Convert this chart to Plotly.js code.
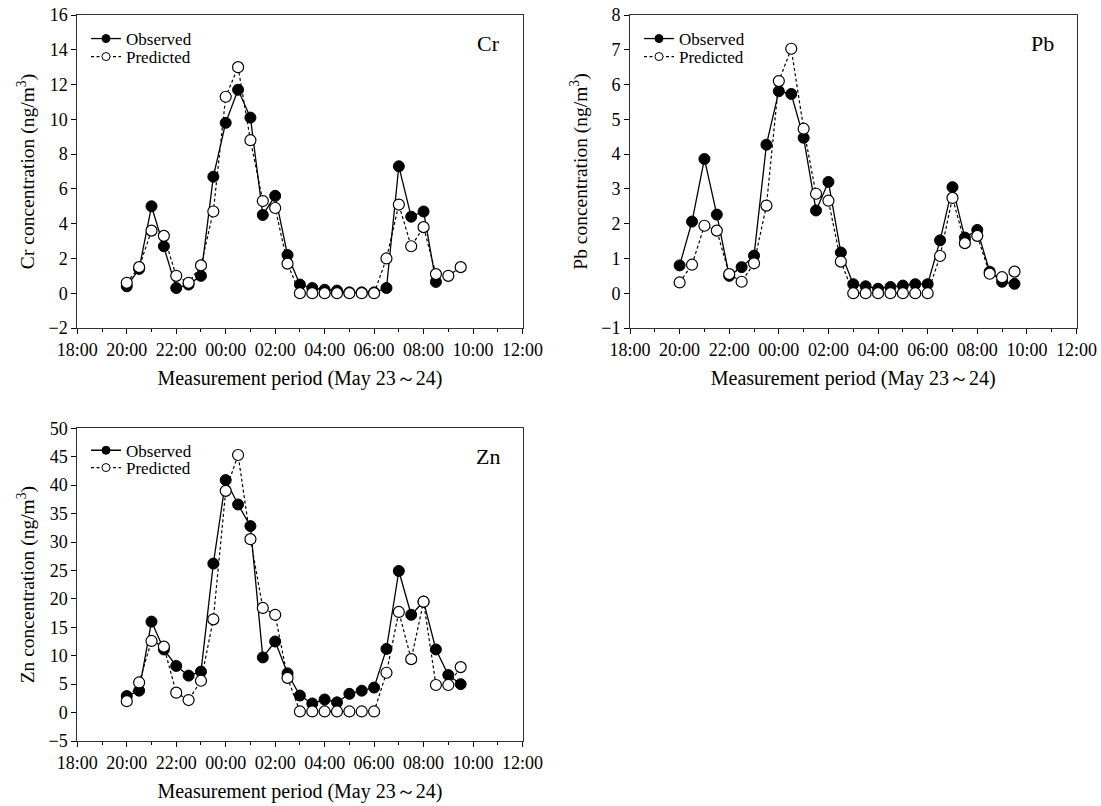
<!DOCTYPE html>
<html>
<head>
<meta charset="utf-8">
<script src="https://cdn.plot.ly/plotly-3.0.1.min.js"></script>
<style>html,body{margin:0;padding:0;background:#fff;}#chart{width:1101px;height:806px;}</style>
</head>
<body>
<div id="chart"></div>
<script>
// Measurement times (May 23 20:00 -> May 24 09:30), 30-min intervals
const times = ["20:00","20:30","21:00","21:30","22:00","22:30","23:00","23:30",
  "00:00","00:30","01:00","01:30","02:00","02:30","03:00","03:30","04:00","04:30",
  "05:00","05:30","06:00","06:30","07:00","07:30","08:00","08:30","09:00","09:30"];

const tickLabels = ["18:00","20:00","22:00","00:00","02:00","04:00","06:00","08:00","10:00","12:00"];

const crObserved = [0.4,1.4,5.0,2.7,0.3,0.5,1.0,6.7,9.8,11.7,10.1,4.5,5.6,2.2,0.5,0.3,0.2,0.15,0.05,0.05,0.05,0.3,7.3,4.4,4.7,0.65,null,null];
const crPredicted = [0.6,1.5,3.6,3.3,1.0,0.6,1.6,4.7,11.3,13.0,8.8,5.3,4.9,1.7,0,0,0,0,0,0,0,2.0,5.1,2.7,3.8,1.1,1.0,1.5];

const pbObserved = [0.80,2.06,3.86,2.26,0.50,0.75,1.08,4.27,5.81,5.73,4.47,2.38,3.2,1.17,0.26,0.2,0.13,0.18,0.22,0.26,0.26,1.52,3.05,1.6,1.82,0.62,0.33,0.27];
const pbPredicted = [0.31,0.82,1.94,1.8,0.55,0.33,0.86,2.52,6.1,7.03,4.73,2.86,2.66,0.91,0,0,0,0,0,0,0,1.07,2.74,1.44,1.65,0.56,0.46,0.62];

const znObserved = [2.9,3.85,16.0,11.1,8.2,6.5,7.2,26.2,40.9,36.6,32.8,9.7,12.5,6.9,3.0,1.6,2.3,1.8,3.3,3.85,4.4,11.2,24.9,17.2,19.5,11.1,6.6,5.0];
const znPredicted = [2.0,5.3,12.6,11.6,3.5,2.2,5.6,16.4,39.0,45.3,30.5,18.4,17.2,6.1,0.2,0.2,0.2,0.2,0.2,0.2,0.2,7.0,17.7,9.4,19.5,4.85,4.85,8.0];

// convert clock time to hours elapsed since 18:00 on May 23
function toHours(t){
  const p = t.split(":");
  let h = parseInt(p[0],10);
  const m = parseInt(p[1],10);
  if (h < 18) h += 24;
  return h + m/60 - 18;
}
const xs = times.map(toHours);
const tickVals = tickLabels.map((_,i)=>i*2);
const minorVals = tickLabels.slice(0,-1).map((_,i)=>i*2+1);

const FONT = "Liberation Serif, Times New Roman, serif";

const OBS_LINE = {color: '#000', width: 1.3};
const PRED_LINE = {color: '#000', width: 1.2, dash: '3px,2.5px'};

function obsTrace(y, xa, ya){
  return {x: xs, y: y, xaxis: xa, yaxis: ya, type: 'scatter', mode: 'lines+markers',
    name: 'Observed', showlegend: false, connectgaps: false, line: OBS_LINE,
    marker: {symbol: 'circle', size: 11, color: '#000', line: {color: '#000', width: 1}}};
}
function predTrace(y, xa, ya){
  return {x: xs, y: y, xaxis: xa, yaxis: ya, type: 'scatter', mode: 'lines+markers',
    name: 'Predicted', showlegend: false, line: PRED_LINE,
    marker: {symbol: 'circle', size: 11, color: '#fff', line: {color: '#000', width: 1.2}}};
}
// legend-only entries (no data points), with smaller legend symbols like the original
function legendEntry(name, filled, xa, ya, lg){
  return {x: [null], y: [null], xaxis: xa, yaxis: ya, type: 'scatter', mode: 'lines+markers',
    name: name, legend: lg, showlegend: true, hoverinfo: 'skip',
    line: filled ? OBS_LINE : PRED_LINE,
    marker: {symbol: 'circle', size: 8, color: filled ? '#000' : '#fff', line: {color: '#000', width: 1}}};
}

const data = [
  obsTrace(crObserved, 'x', 'y'),
  predTrace(crPredicted, 'x', 'y'),
  obsTrace(pbObserved, 'x2', 'y2'),
  predTrace(pbPredicted, 'x2', 'y2'),
  obsTrace(znObserved, 'x3', 'y3'),
  predTrace(znPredicted, 'x3', 'y3'),
  legendEntry('Observed', true, 'x', 'y', 'legend'),
  legendEntry('Predicted', false, 'x', 'y', 'legend2'),
  legendEntry('Observed', true, 'x2', 'y2', 'legend3'),
  legendEntry('Predicted', false, 'x2', 'y2', 'legend4'),
  legendEntry('Observed', true, 'x3', 'y3', 'legend5'),
  legendEntry('Predicted', false, 'x3', 'y3', 'legend6')
];

function xAxis(domain, anchor){
  return {domain: domain, anchor: anchor, range: [0, 18], tickmode: 'array',
    tickvals: tickVals, ticktext: tickLabels, ticks: 'outside', ticklen: 5, tickwidth: 1,
    tickcolor: '#000', showline: true, linecolor: '#333', linewidth: 1, mirror: true,
    showgrid: false, zeroline: false, automargin: false,
    tickfont: {family: FONT, size: 18, color: '#000'},
    minor: {tickmode: 'array', tickvals: minorVals, ticks: 'outside', ticklen: 3, tickcolor: '#000', showgrid: false},
    title: {text: 'Measurement period (May 23～24)', font: {family: FONT, size: 20, color: '#000'}, standoff: 12}};
}
function yAxis(domain, anchor, range, dtick, label){
  return {domain: domain, anchor: anchor, range: range, tickmode: 'linear', tick0: 0, dtick: dtick,
    ticks: 'outside', ticklen: 5, tickwidth: 1, tickcolor: '#000',
    showline: true, linecolor: '#333', linewidth: 1, mirror: true,
    showgrid: false, zeroline: false, automargin: false,
    tickfont: {family: FONT, size: 18, color: '#000'},
    title: {text: label + ' concentration (ng/m<sup>3</sup>)', font: {family: FONT, size: 19.5, color: '#000'}, standoff: 8}};
}

const W = 1101, H = 806;
const xdL = [77.3/W, 522.5/W];
const xdR = [630/W, 1076.5/W];
const ydT = [1-328/H, 1-15/H];
const ydB = [1-741/H, 1-428.3/H];

function legendAt(px, py){
  return {x: px/W, y: 1-py/H, xanchor: 'left', yanchor: 'top', bgcolor: 'rgba(0,0,0,0)',
    borderwidth: 0, font: {family: FONT, size: 17, color: '#000'}, itemwidth: 30,
    tracegroupgap: 0, traceorder: 'normal', itemclick: false};
}

const layout = {
  width: W, height: H,
  margin: {l: 0, r: 0, t: 0, b: 0},
  paper_bgcolor: '#fff', plot_bgcolor: '#fff',
  font: {family: FONT, color: '#000'},
  xaxis: xAxis(xdL, 'y'),
  yaxis: yAxis(ydT, 'x', [-2, 16], 2, 'Cr'),
  xaxis2: xAxis(xdR, 'y2'),
  yaxis2: yAxis(ydT, 'x2', [-1, 8], 1, 'Pb'),
  xaxis3: xAxis(xdL, 'y3'),
  yaxis3: yAxis(ydB, 'x3', [-5, 50], 5, 'Zn'),
  legend: legendAt(86, 21),
  legend2: legendAt(86, 39),
  legend3: legendAt(639, 21),
  legend4: legendAt(639, 39),
  legend5: legendAt(86, 432.7),
  legend6: legendAt(86, 450),
  annotations: [
    {text: 'Cr', xref: 'x domain', yref: 'y domain', x: 0.955, y: 0.91, xanchor: 'right', yanchor: 'middle', showarrow: false, font: {family: FONT, size: 22, color: '#000'}},
    {text: 'Pb', xref: 'x2 domain', yref: 'y2 domain', x: 0.955, y: 0.91, xanchor: 'right', yanchor: 'middle', showarrow: false, font: {family: FONT, size: 22, color: '#000'}},
    {text: 'Zn', xref: 'x3 domain', yref: 'y3 domain', x: 0.955, y: 0.91, xanchor: 'right', yanchor: 'middle', showarrow: false, font: {family: FONT, size: 22, color: '#000'}}
  ]
};

Plotly.newPlot('chart', data, layout, {displayModeBar: false, staticPlot: true});
</script>
</body>
</html>
